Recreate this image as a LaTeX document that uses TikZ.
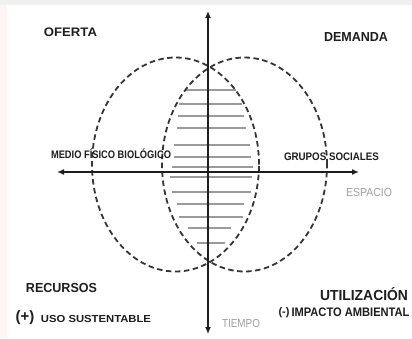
\documentclass[tikz,border=0pt]{standalone}
\usepackage{fontspec}
\usepackage{graphicx}
\setmainfont{Liberation Sans}
\usetikzlibrary{arrows.meta,shapes.geometric}
\definecolor{ink}{HTML}{1E1E1E}
\definecolor{soft}{HTML}{A0A0A0}
\definecolor{hatch}{HTML}{9A9A9A}
\newcommand{\fitt}[3]{\resizebox{#1pt}{#2pt}{\smash{#3}\vphantom{E}}}
\tikzset{
  lbl/.style={inner sep=0pt, outer sep=0pt, text=ink, font=\bfseries},
  greylbl/.style={inner sep=0pt, outer sep=0pt, text=soft},
  axis/.style={line width=2.2pt, draw=ink, {Latex[length=7pt,width=6pt]}-{Latex[length=7pt,width=6pt]}},
  zone/.style={draw=ink!90, line width=1.8pt, dash pattern=on 5.5pt off 3.5pt},
  hline/.style={draw=hatch, line width=1.1pt}
}
\begin{document}
\begin{tikzpicture}[x=1pt,y=-1pt]
\useasboundingbox (0,0) rectangle (412,338);
\fill[white] (0,0) rectangle (412,338);
\fill[black!6] (0,0) rectangle (412,5);
\fill[red!4!white] (0,5) rectangle (7,338);

% hatch lines in the overlap
\foreach \yy/\xa/\xb in {90/186/236, 104/179/242, 116/178/244, 128/177/246,
  145/174/250, 157/174/251, 167/172/253, 177/170/252, 192/172/251,
  204/177/244, 217/179/243, 228/188/231, 243/197/225}
  \draw[hline] (\xa,\yy) -- (\xb,\yy);

% ellipses
\node[zone, ellipse, draw, minimum width=167pt, minimum height=214pt, inner sep=0pt] (offer) at (175.5,164.5) {};
\node[zone, ellipse, draw, minimum width=165pt, minimum height=214pt, inner sep=0pt] (demand) at (244.5,164.5) {};

% axes
\coordinate (vtop) at (208,11);
\coordinate (vbot) at (208,334);
\coordinate (hleft) at (57,172);
\coordinate (hright) at (359,172);
\draw[axis] (vbot) -- (vtop);
\draw[axis] (hleft) -- (hright);

% labels
\node[lbl] (oferta) at (70.5,32.5) {\fitt{53}{8.5}{OFERTA}};
\node[lbl] (demanda) at (356,36.5) {\fitt{64}{9}{DEMANDA}};
\node[lbl] (medio) at (111,155) {\fitt{120}{7.5}{MEDIO FÍSICO BIOLÓGICO}};
\node[lbl] (grupos) at (331.5,156.5) {\fitt{95}{7.5}{GRUPOS SOCIALES}};
\node[greylbl] (espacio) at (369,192) {\fitt{46}{8}{ESPACIO}};
\node[greylbl] (tiempo) at (241,323) {\fitt{38}{8}{TIEMPO}};
\node[lbl] (recursos) at (61.5,287.5) {\fitt{71}{9}{RECURSOS}};
\node[lbl, font=\fontsize{15}{15}\selectfont\bfseries] (plus) at (25,318) {(+)};
\node[lbl] (uso) at (96,319) {\fitt{110}{7}{USO SUSTENTABLE}};
\node[lbl] (utiliz) at (364,295) {\fitt{88}{10}{UTILIZACIÓN}};
\node[lbl, font=\fontsize{11}{11}\selectfont\bfseries] (minus) at (284,313) {(-)};
\node[lbl, anchor=west] (impacto) at (291.5,312.5) {\fitt{118}{8.5}{IMPACTO AMBIENTAL}};
\end{tikzpicture}
\end{document}
